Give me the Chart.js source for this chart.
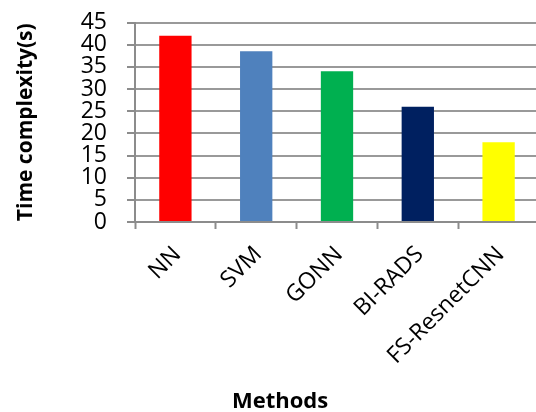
<!DOCTYPE html>
<html>
<head>
<meta charset="utf-8">
<script src="https://cdn.jsdelivr.net/npm/chart.js@4/dist/chart.umd.min.js"></script>
<style>
  html, body { margin: 0; padding: 0; background: #fff; overflow: hidden; }
  #wrap { width: 536px; height: 412px; overflow: hidden; }
  canvas { display: block; margin-top: -9px; }
</style>
</head>
<body>
<div id="wrap"><canvas id="chart" width="540" height="421"></canvas></div>
<script>
// Execution time of each method
const methods = ['NN', 'SVM', 'GONN', 'BI-RADS', 'FS-ResnetCNN'];
const timeSeconds = [42, 38.5, 34, 26, 18];
const barColors = ['#FF0000', '#4F81BD', '#00B050', '#002060', '#FFFF00'];
const yMin = 0, yMax = 45, yStep = 5;

const FONT = '"Open Sans", Lato, sans-serif';

// x-axis title placed under the rotated labels
const xTitlePlugin = {
  id: 'xTitle',
  afterDraw(chart) {
    const ctx = chart.ctx;
    ctx.save();
    ctx.font = 'bold 22px ' + FONT;
    ctx.fillStyle = '#000';
    ctx.textAlign = 'center';
    ctx.textBaseline = 'alphabetic';
    ctx.fillText('Methods', 280, 417);
    ctx.restore();
  }
};

new Chart(document.getElementById('chart'), {
  type: 'bar',
  data: {
    labels: methods,
    datasets: [{
      data: timeSeconds,
      backgroundColor: barColors,
      borderWidth: 0,
      barPercentage: 0.4,
      categoryPercentage: 1.0
    }]
  },
  options: {
    responsive: false,
    animation: false,
    layout: { padding: { top: 0, right: 1, left: 0, bottom: 0 } },
    plugins: { legend: { display: false }, tooltip: { enabled: false } },
    scales: {
      x: {
        offset: true,
        grid: {
          display: true,
          offset: true,
          drawOnChartArea: false,
          tickLength: 7,
          tickWidth: 2,
          tickColor: '#8c8c8c'
        },
        border: { color: '#8c8c8c', width: 2 },
        ticks: {
          color: '#000',
          font: { family: FONT, size: 23 },
          minRotation: 45,
          maxRotation: 45,
          padding: 12,
          labelOffset: 2
        },
        afterFit(scale) { scale.height = 190; }
      },
      y: {
        min: yMin,
        max: yMax,
        grid: {
          color: '#999999',
          lineWidth: 2,
          tickLength: 8,
          tickColor: '#8c8c8c',
          tickWidth: 2
        },
        border: { color: '#8c8c8c', width: 2 },
        ticks: {
          stepSize: yStep,
          autoSkip: false,
          color: '#000',
          font: { family: FONT, size: 23, lineHeight: 1 },
          padding: 20
        },
        title: {
          display: true,
          text: 'Time complexity(s)',
          color: '#000',
          font: { family: FONT, size: 21, weight: 'bold', lineHeight: 1.2 },
          padding: { top: 13, bottom: 0 }
        },
        afterFit(scale) { scale.width = 135; }
      }
    }
  },
  plugins: [xTitlePlugin]
});
</script>
</body>
</html>
